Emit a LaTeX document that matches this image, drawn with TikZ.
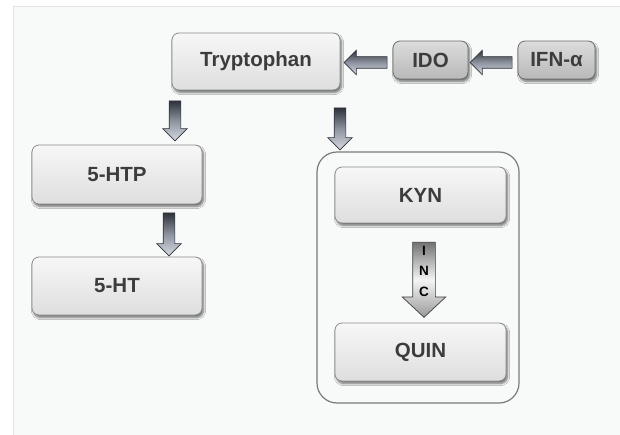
\documentclass[tikz,border=0pt]{standalone}
\usepackage{fontspec}
\setmainfont{Liberation Sans}
\usetikzlibrary{shapes.arrows,shadows.blur}
\definecolor{txt}{HTML}{3C3C3C}
\definecolor{panel}{HTML}{F8F9F9}
\definecolor{bord}{HTML}{E2E4E4}
\definecolor{boxtop}{HTML}{F7F7F7}
\definecolor{boxbot}{HTML}{DEDEDE}
\definecolor{boxedge}{HTML}{8C8C8C}
\definecolor{dboxtop}{HTML}{DCDCDC}
\definecolor{dboxbot}{HTML}{B8B8B8}
\definecolor{dboxedge}{HTML}{6E6E6E}
\definecolor{arrdark}{HTML}{2E323A}
\definecolor{arrlight}{HTML}{D6DAE0}
\definecolor{arrmid}{HTML}{8E94A0}
\definecolor{grp}{HTML}{7A7A7A}
\begin{document}
\begin{tikzpicture}[x=1pt,y=-1pt,
  box/.style={rectangle, rounded corners=7pt, draw=boxedge, line width=0.8pt,
    top color=boxtop, bottom color=boxbot, text=txt,
    font=\fontsize{20.5}{24}\selectfont\bfseries,
    blur shadow={shadow xshift=1.5pt, shadow yshift=-2.5pt, shadow blur steps=6, shadow opacity=55}},
  dbox/.style={box, draw=dboxedge, top color=dboxtop, bottom color=dboxbot},
  flow/.style={single arrow, inner sep=5.5pt, single arrow head extend=6.5pt,
    single arrow tip angle=90, draw=arrdark, line width=0.6pt,
    top color=arrdark, bottom color=arrlight, middle color=arrmid},
  incarrow/.style={single arrow, inner sep=11pt, single arrow head extend=10.5pt,
    single arrow tip angle=94, draw=black!75, line width=0.7pt,
    top color=black!55, bottom color=black!40, middle color=black!4},
  group/.style={rectangle, rounded corners=20pt, draw=grp, line width=1.2pt}
]
\useasboundingbox (0,0) rectangle (620,435);
\fill[white] (0,0) rectangle (620,435);
\draw[draw=bord, fill=panel, line width=1pt] (13,7) rectangle (625,440);

% group frame
\node[group, minimum width=202pt, minimum height=251pt] (grpbox) at (418,277.5) {};

% boxes
\node[box, minimum width=168pt, minimum height=57pt] (trp) at (256,61.5) {Tryptophan};
\node[dbox, minimum width=75pt, minimum height=38pt] (ido) at (430.5,60) {IDO};
\node[dbox, minimum width=77pt, minimum height=38pt] (ifn) at (556.5,60) {IFN-α};
\node[box, minimum width=170pt, minimum height=59pt] (htp) at (117,174.5) {5-HTP};
\node[box, minimum width=170pt, minimum height=58pt] (ht) at (117,286) {5-HT};
\node[box, minimum width=171pt, minimum height=56pt] (kyn) at (420.5,195) {KYN};
\node[box, minimum width=171pt, minimum height=58pt] (quin) at (420.5,352) {QUIN};

% block arrows
\node[flow, rotate=180, minimum height=43pt] (a1) at (368.5,62.5) {};
\node[flow, rotate=180, minimum height=42pt] (a2) at (494,62.5) {};
\node[flow, rotate=-90, minimum height=40pt] (a3) at (175,118) {};
\node[flow, rotate=-90, minimum height=42pt] (a4) at (340,126) {};
\node[flow, rotate=-90, minimum height=43pt] (a5) at (169,231.5) {};
\node[incarrow, rotate=-90, minimum height=75pt] (a6) at (424,274.5) {};
\node[font=\fontsize{13.5}{20.5}\selectfont\bfseries, align=center, inner sep=0pt] (inc) at (424,271) {I\\N\\C};
\end{tikzpicture}
\end{document}
